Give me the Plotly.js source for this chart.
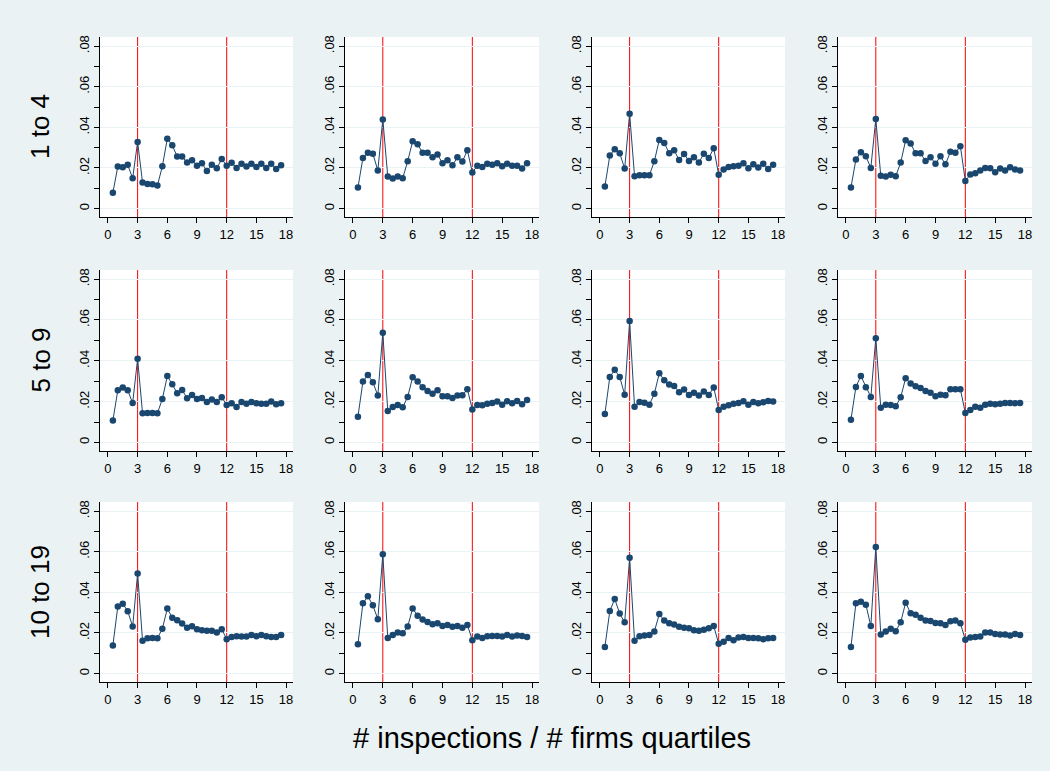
<!DOCTYPE html>
<html>
<head>
<meta charset="utf-8">
<script src="https://cdn.plot.ly/plotly-3.0.1.min.js"></script>
<style>
  html, body { margin: 0; padding: 0; background: #ffffff; }
  #chart { width: 1050px; height: 771px; }
</style>
</head>
<body>
<div id="chart"></div>
<script>
// Horizontal positions shared by every panel
const months = [0.5, 1, 1.5, 2, 2.5, 3, 3.5, 4, 4.5, 5, 5.5, 6, 6.5, 7, 7.5, 8, 8.5, 9,
                9.5, 10, 10.5, 11, 11.5, 12, 12.5, 13, 13.5, 14, 14.5, 15, 15.5, 16, 16.5, 17, 17.5];

// Reference lines drawn in every panel
const cutoffs = [3, 12];

// Row labels (firm size classes)
const rowLabels = ["1 to 4", "5 to 9", "10 to 19"];

// Tick labels
const xTicks = [0, 3, 6, 9, 12, 15, 18];
const yTicks = [0, 0.02, 0.04, 0.06, 0.08];
const yTickText = ["0", ".02", ".04", ".06", ".08"];

// Size 1 to 4, quartiles 1..4
const size1to4_q1 = [0.0077, 0.0207, 0.0203, 0.0215, 0.0149, 0.0328, 0.0128, 0.0121, 0.0120, 0.0113, 0.0208, 0.0344,
  0.0311, 0.0256, 0.0256, 0.0226, 0.0238, 0.0210, 0.0223, 0.0185, 0.0215, 0.0198, 0.0244, 0.0210, 0.0225, 0.0200,
  0.0221, 0.0207, 0.0221, 0.0205, 0.0220, 0.0200, 0.0220, 0.0195, 0.0213];
const size1to4_q2 = [0.0103, 0.0249, 0.0275, 0.0270, 0.0187, 0.0439, 0.0157, 0.0148, 0.0157, 0.0149, 0.0233, 0.0331,
  0.0316, 0.0275, 0.0275, 0.0252, 0.0266, 0.0223, 0.0238, 0.0213, 0.0252, 0.0231, 0.0287, 0.0177, 0.0211, 0.0205,
  0.0221, 0.0216, 0.0223, 0.0208, 0.0221, 0.0211, 0.0211, 0.0197, 0.0223];
const size1to4_q3 = [0.0108, 0.0261, 0.0292, 0.0272, 0.0197, 0.0467, 0.0159, 0.0164, 0.0164, 0.0164, 0.0233, 0.0338,
  0.0323, 0.0272, 0.0287, 0.0239, 0.0269, 0.0234, 0.0252, 0.0226, 0.0270, 0.0249, 0.0297, 0.0166, 0.0192, 0.0205,
  0.0208, 0.0210, 0.0223, 0.0198, 0.0218, 0.0202, 0.0221, 0.0195, 0.0215];
const size1to4_q4 = [0.0103, 0.0241, 0.0277, 0.0257, 0.0200, 0.0441, 0.0161, 0.0157, 0.0166, 0.0159, 0.0226, 0.0336,
  0.0320, 0.0272, 0.0272, 0.0234, 0.0252, 0.0221, 0.0257, 0.0218, 0.0279, 0.0274, 0.0307, 0.0136, 0.0167, 0.0174,
  0.0187, 0.0200, 0.0198, 0.0179, 0.0197, 0.0187, 0.0203, 0.0192, 0.0187];

// Size 5 to 9, quartiles 1..4
const size5to9_q1 = [0.0107, 0.0256, 0.0269, 0.0256, 0.0193, 0.0410, 0.0143, 0.0144, 0.0144, 0.0143, 0.0213, 0.0325,
  0.0285, 0.0241, 0.0257, 0.0216, 0.0233, 0.0213, 0.0218, 0.0198, 0.0210, 0.0198, 0.0221, 0.0184, 0.0192, 0.0174,
  0.0198, 0.0189, 0.0198, 0.0192, 0.0190, 0.0190, 0.0200, 0.0187, 0.0192];
const size5to9_q2 = [0.0126, 0.0298, 0.0331, 0.0295, 0.0230, 0.0538, 0.0154, 0.0174, 0.0184, 0.0172, 0.0223, 0.0320,
  0.0298, 0.0270, 0.0252, 0.0238, 0.0256, 0.0226, 0.0226, 0.0218, 0.0230, 0.0231, 0.0261, 0.0161, 0.0184, 0.0182,
  0.0189, 0.0193, 0.0200, 0.0185, 0.0202, 0.0192, 0.0203, 0.0187, 0.0208];
const size5to9_q3 = [0.0139, 0.0321, 0.0356, 0.0321, 0.0234, 0.0595, 0.0175, 0.0198, 0.0195, 0.0185, 0.0239, 0.0339,
  0.0305, 0.0284, 0.0277, 0.0246, 0.0259, 0.0233, 0.0243, 0.0230, 0.0249, 0.0233, 0.0269, 0.0159, 0.0175, 0.0182,
  0.0190, 0.0193, 0.0202, 0.0185, 0.0198, 0.0192, 0.0197, 0.0203, 0.0200];
const size5to9_q4 = [0.0111, 0.0272, 0.0325, 0.0270, 0.0223, 0.0511, 0.0170, 0.0185, 0.0184, 0.0177, 0.0221, 0.0315,
  0.0289, 0.0275, 0.0267, 0.0252, 0.0244, 0.0226, 0.0234, 0.0231, 0.0261, 0.0261, 0.0261, 0.0144, 0.0159, 0.0175,
  0.0170, 0.0185, 0.0189, 0.0187, 0.0189, 0.0193, 0.0193, 0.0192, 0.0193];

// Size 10 to 19, quartiles 1..4
const size10to19_q1 = [0.0138, 0.0330, 0.0344, 0.0307, 0.0231, 0.0493, 0.0161, 0.0174, 0.0175, 0.0174, 0.0220, 0.0320,
  0.0275, 0.0262, 0.0246, 0.0225, 0.0233, 0.0218, 0.0213, 0.0210, 0.0210, 0.0202, 0.0218, 0.0169, 0.0180, 0.0184,
  0.0182, 0.0182, 0.0189, 0.0184, 0.0190, 0.0184, 0.0180, 0.0180, 0.0189];
const size10to19_q2 = [0.0144, 0.0346, 0.0380, 0.0336, 0.0267, 0.0587, 0.0175, 0.0190, 0.0202, 0.0198, 0.0231, 0.0320,
  0.0285, 0.0266, 0.0254, 0.0243, 0.0248, 0.0234, 0.0239, 0.0230, 0.0234, 0.0225, 0.0239, 0.0164, 0.0182, 0.0175,
  0.0184, 0.0185, 0.0185, 0.0182, 0.0190, 0.0182, 0.0187, 0.0185, 0.0180];
const size10to19_q3 = [0.0130, 0.0308, 0.0367, 0.0295, 0.0252, 0.0570, 0.0161, 0.0184, 0.0187, 0.0189, 0.0207, 0.0293,
  0.0261, 0.0248, 0.0241, 0.0230, 0.0225, 0.0223, 0.0213, 0.0211, 0.0215, 0.0223, 0.0234, 0.0146, 0.0156, 0.0175,
  0.0164, 0.0177, 0.0180, 0.0175, 0.0175, 0.0174, 0.0169, 0.0174, 0.0175];
const size10to19_q4 = [0.0130, 0.0346, 0.0354, 0.0339, 0.0234, 0.0623, 0.0192, 0.0207, 0.0221, 0.0208, 0.0252, 0.0349,
  0.0297, 0.0290, 0.0275, 0.0261, 0.0259, 0.0249, 0.0248, 0.0239, 0.0257, 0.0261, 0.0248, 0.0166, 0.0177, 0.0180,
  0.0182, 0.0202, 0.0202, 0.0195, 0.0192, 0.0192, 0.0187, 0.0195, 0.0189];

const panels = [
  [size1to4_q1, size1to4_q2, size1to4_q3, size1to4_q4],
  [size5to9_q1, size5to9_q2, size5to9_q3, size5to9_q4],
  [size10to19_q1, size10to19_q2, size10to19_q3, size10to19_q4]
];

// Panel placement in pixels on the 1050 x 771 canvas
const W = 1050, H = 771;
const colPx = [[100, 293], [345, 539], [592, 785], [838, 1032]];
const rowPx = [[37, 217], [270, 451], [502, 682]];

const navy = "#1a476f";
const font = "Liberation Sans, Arial, sans-serif";

const traces = [];
const layout = {
  width: W, height: H,
  margin: {l: 0, r: 0, t: 0, b: 0},
  paper_bgcolor: "#eaf2f3",
  plot_bgcolor: "#ffffff",
  showlegend: false,
  font: {family: font, color: "#000000", size: 13},
  shapes: [],
  annotations: []
};

let k = 0;
for (let r = 0; r < 3; r++) {
  for (let c = 0; c < 4; c++) {
    k++;
    const sfx = k === 1 ? "" : String(k);
    traces.push({
      type: "scatter", mode: "lines+markers",
      x: months, y: panels[r][c],
      xaxis: "x" + sfx, yaxis: "y" + sfx,
      line: {color: navy, width: 1},
      marker: {color: navy, size: 6.5},
      hoverinfo: "x+y"
    });
    layout["xaxis" + sfx] = {
      domain: [colPx[c][0] / W, colPx[c][1] / W],
      anchor: "y" + sfx,
      range: [-0.8, 18.7],
      tickmode: "array", tickvals: xTicks,
      ticks: "outside", ticklen: 5, tickcolor: "#000000", tickwidth: 1,
      showline: true, linecolor: "#000000", linewidth: 1,
      showgrid: false, zeroline: false,
      tickfont: {size: 13, color: "#000000"}
    };
    layout["yaxis" + sfx] = {
      domain: [1 - rowPx[r][1] / H, 1 - rowPx[r][0] / H],
      anchor: "x" + sfx,
      range: [-0.0042, 0.0845],
      tickmode: "array", tickvals: yTicks, ticktext: yTickText,
      tickangle: -90,
      ticks: "outside", ticklen: 5, tickcolor: "#000000", tickwidth: 1,
      minor: {dtick: 0.01, tick0: 0, ticks: "outside", ticklen: 5, tickcolor: "#000000", showgrid: false},
      showline: true, linecolor: "#000000", linewidth: 1,
      showgrid: true, gridcolor: "#eaf2f3", gridwidth: 1,
      zeroline: false,
      tickfont: {size: 13, color: "#000000"}
    };
    cutoffs.forEach(v => {
      layout.shapes.push({
        type: "line", xref: "x" + sfx, yref: "y" + sfx + " domain",
        x0: v, x1: v, y0: 0, y1: 1, layer: "below",
        line: {color: "#ff0000", width: 1}
      });
    });
  }
  layout.annotations.push({
    text: rowLabels[r], xref: "paper", yref: "paper",
    x: 40 / W, y: 1 - (rowPx[r][0] + rowPx[r][1]) / 2 / H,
    textangle: -90, showarrow: false,
    xanchor: "center", yanchor: "middle",
    font: {size: 26, color: "#000000", family: font}
  });
}

layout.annotations.push({
  text: "# inspections / # firms quartiles", xref: "paper", yref: "paper",
  x: 552 / W, y: 1 - 738 / H, showarrow: false,
  xanchor: "center", yanchor: "middle",
  font: {size: 29, color: "#000000", family: font}
});

Plotly.newPlot("chart", traces, layout, {staticPlot: true, displayModeBar: false});
</script>
</body>
</html>
